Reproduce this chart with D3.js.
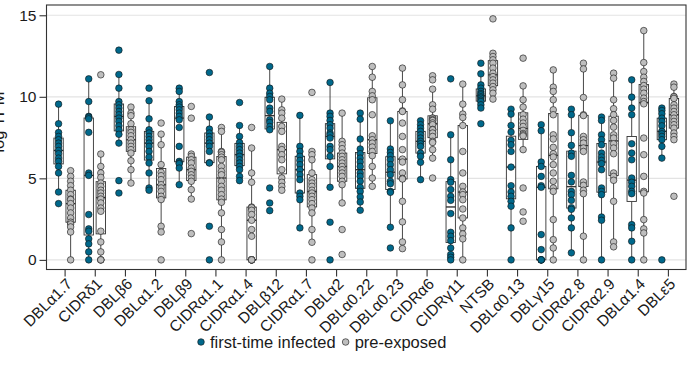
<!DOCTYPE html>
<html>
<head>
<meta charset="utf-8">
<script src="https://cdn.jsdelivr.net/npm/d3@7"></script>
<style>
  html, body { margin: 0; padding: 0; background: #fff; }
  svg { display: block; font-family: "Liberation Sans", Arial, Helvetica, sans-serif; }
</style>
</head>
<body>
<svg id="chart" width="695" height="387"></svg>
<script>
// var domains (x categories)
const categories = [
  "DBLα1.7", "CIDRδ1", "DBLβ6", "DBLα1.2", "DBLβ9", "CIDRα1.1", "CIDRα1.4",
  "DBLβ12", "CIDRα1.7", "DBLα2", "DBLα0.22", "DBLα0.23", "CIDRα6", "CIDRγ11",
  "NTSB", "DBLα0.13", "DBLγ15", "CIDRα2.8", "CIDRα2.9", "DBLα1.4", "DBLε5"
];

const seriesNames = ["first-time infected", "pre-exposed"];
const seriesColors = ["#00688B", "#BEBEBE"];

// log TPM per patient, first-time infected
const firstTimeInfected = [
  [9.55, 8.35, 7.81, 7.57, 7.37, 7.16, 6.96, 6.71, 6.51, 6.24, 6.04, 5.73, 5.33, 4.16, 3.45],
  [11.1, 9.71, 8.8, 8.75, 8.65, 7.82, 5.33, 5.18, 2.78, 1.9, 1.76, 1.29, 0.98, 0.49, 0],
  [12.86, 11.37, 10.53, 9.71, 9.51, 9.31, 9.1, 8.9, 8.69, 8.49, 8.22, 7.98, 7.7, 7.16, 4.86, 4.1],
  [10.53, 9.76, 8.65, 7.98, 7.78, 7.57, 7.37, 7.16, 6.96, 6.65, 6.3, 5.94, 5.33, 4.41, 4.27],
  [10.53, 10.33, 9.71, 9.51, 9.37, 9.2, 9.0, 8.8, 8.59, 8.12, 6.96, 6.04, 5.94, 5.9, 5.63, 4.61],
  [11.49, 8.76, 8.02, 7.78, 7.57, 7.37, 7.16, 6.96, 6.65, 5.96, 5.94, 2.06, 0],
  [9.65, 8.24, 7.57, 7.2, 6.96, 6.76, 6.55, 6.35, 6.14, 5.94, 5.73, 5.53, 5.12, 4.86],
  [11.86, 10.53, 10.22, 10.02, 9.82, 9.31, 9.1, 8.59, 8.43, 8.18, 7.98, 4.41, 3.49, 3.02],
  [8.86, 6.96, 6.65, 6.35, 6.1, 5.84, 5.53, 5.22, 4.92, 4.1, 3.9, 3.69, 1.96],
  [10.88, 9.0, 8.8, 8.55, 8.29, 8.08, 7.78, 7.67, 7.47, 6.96, 6.76, 6.35, 5.73, 4.45, 2.31, 0],
  [9.0, 8.63, 7.41, 6.8, 6.51, 6.24, 6.0, 5.73, 5.33, 5.12, 4.82, 4.45, 4.2, 3.86, 3.55, 3.04],
  [8.53, 6.8, 6.59, 6.39, 6.14, 5.84, 5.53, 5.22, 4.82, 4.67, 4.2, 4.14, 2.0, 0.73],
  [8.53, 8.29, 8.08, 7.88, 7.67, 7.47, 7.27, 7.12, 6.96, 6.55, 6.35, 5.98, 4.92],
  [11.1, 7.67, 6.14, 4.92, 4.76, 4.31, 3.9, 3.65, 2.84, 1.69, 1.45, 1.18, 0.73, 0.33, 0.16, 0],
  [12.06, 11.41, 10.73, 10.53, 10.33, 10.2, 10.12, 10.0, 9.92, 9.8, 9.71, 9.51, 9.31, 8.35],
  [9.24, 8.94, 8.24, 7.84, 7.33, 7.06, 6.65, 5.69, 4.55, 4.16, 3.9, 3.59, 3.29, 1.96, 0],
  [8.29, 7.92, 6.0, 5.73, 5.12, 4.55, 4.45, 1.55, 0.63, 0, 0, 0, 0],
  [9.24, 8.9, 7.8, 7.02, 6.55, 6.35, 5.18, 4.78, 4.2, 4.0, 3.65, 3.2, 3.1, 2.57, 1.96, 0.43],
  [8.76, 8.55, 7.67, 7.37, 7.06, 6.55, 6.31, 6.1, 5.9, 5.53, 4.41, 4.2, 4.0, 2.63, 2.43, 0],
  [11.04, 9.98, 9.31, 8.9, 7.12, 6.55, 6.14, 5.02, 4.76, 4.51, 4.2, 4.06, 2.16, 1.96, 1.14, 0],
  [9.31, 9.16, 8.96, 8.69, 8.49, 8.22, 7.88, 7.73, 7.57, 7.37, 6.96, 6.24, 0]
];

// log TPM per patient, pre-exposed
const preExposed = [
  [5.47, 5.12, 4.82, 4.55, 4.27, 4.0, 3.73, 3.7, 3.45, 3.18, 2.88, 2.57, 2.31, 2.2, 2.02, 1.71, 0],
  [11.35, 6.49, 5.73, 5.33, 5.06, 4.71, 4.51, 4.27, 4.1, 3.9, 3.73, 3.49, 3.18, 2.98, 1.76, 1.1, 0.49, 0, 0, 0],
  [9.37, 9.0, 8.84, 8.35, 7.98, 7.82, 7.61, 7.37, 7.16, 6.96, 6.76, 6.55, 6.08, 5.53, 4.71],
  [8.39, 7.71, 7.06, 5.84, 5.37, 5.16, 4.92, 4.61, 4.41, 4.2, 3.9, 3.7, 2.06, 1.71, 0],
  [9.41, 8.69, 6.49, 6.35, 6.14, 5.94, 5.63, 5.43, 5.22, 5.02, 4.82, 4.31, 3.73, 1.61],
  [8.12, 7.88, 6.65, 6.6, 6.45, 6.3, 6.14, 5.73, 5.43, 5.22, 4.82, 4.51, 4.27, 4.0, 3.73, 3.53, 2.88, 1.86, 1.1, 0],
  [8.12, 6.86, 5.33, 4.76, 3.24, 3.2, 3.04, 2.78, 2.43, 1.86, 1.45, 0, 0, 0, 0, 0, 0],
  [9.86, 9.2, 9.0, 8.69, 8.18, 7.88, 6.96, 6.76, 6.45, 6.14, 5.53, 5.02, 4.76, 4.51, 4.27],
  [10.27, 6.65, 6.45, 6.14, 5.33, 4.92, 4.71, 4.51, 4.27, 4.1, 3.9, 3.69, 3.45, 3.18, 2.88, 1.86, 1.08, 0],
  [9.0, 7.27, 7.06, 6.82, 6.55, 6.35, 6.14, 5.94, 5.73, 5.53, 5.33, 5.12, 4.82, 4.61, 3.49, 1.86, 0.33],
  [11.86, 11.2, 10.33, 10.06, 9.82, 8.9, 7.61, 7.37, 7.16, 6.92, 6.65, 6.39, 5.73, 5.02, 4.51],
  [11.76, 10.73, 9.82, 9.14, 9.1, 8.39, 7.57, 6.76, 6.18, 6.0, 5.33, 5.0, 4.96, 3.59, 2.33, 1.1, 0.69],
  [11.29, 11.04, 10.47, 9.51, 9.24, 8.7, 8.69, 8.6, 8.55, 8.4, 8.29, 8.0, 7.98, 7.78, 7.57, 7.27, 7.2, 6.76, 6.24, 5.02],
  [10.78, 9.55, 8.94, 8.73, 8.24, 6.65, 5.33, 4.51, 4.16, 4.0, 3.69, 3.12, 2.57, 1.96, 1.59, 1.29, 0],
  [14.78, 12.67, 12.47, 12.27, 12.06, 11.76, 11.45, 11.24, 11.04, 10.84, 10.63, 10.43, 10.22, 9.86],
  [12.37, 10.67, 9.82, 9.37, 8.9, 8.63, 8.39, 8.18, 7.94, 7.75, 7.67, 7.6, 6.76, 4.41, 2.94, 2.37],
  [11.65, 10.59, 10.33, 9.82, 9.2, 8.9, 7.67, 7.41, 6.9, 6.51, 6.31, 5.84, 5.33, 4.82, 4.41, 4.2, 2.47, 1.24, 0.73, 0],
  [12.06, 11.71, 9.96, 8.9, 8.85, 7.57, 7.37, 7.16, 6.86, 6.65, 4.78, 4.57, 4.27, 4.06, 1.45, 0],
  [11.45, 11.14, 9.82, 9.27, 8.9, 8.55, 8.14, 7.67, 7.47, 7.12, 6.86, 6.51, 5.33, 5.12, 4.88, 3.59, 1.1, 0.8],
  [14.06, 12.1, 11.55, 11.2, 10.94, 10.69, 10.47, 10.22, 9.92, 9.71, 9.57, 7.47, 6.45, 5.12, 4.2, 4.1, 2.47, 1.9, 1.65, 0],
  [10.78, 10.59, 10.02, 10.0, 9.9, 9.51, 9.31, 9.1, 8.9, 8.69, 8.49, 8.29, 8.08, 7.78, 7.57, 7.37, 3.9]
];

const yTicks = [0, 5, 10, 15];
const yTitle = "log TPM";

// ---- layout ----
const panel = { left: 46.5, right: 686, top: 5, bottom: 269.5 };
const svg = d3.select("#chart");
const FONT = "'Liberation Sans', Arial, sans-serif";

const x = d3.scalePoint().domain(categories).range([panel.left, panel.right]).padding(0.6);
const y = d3.scaleLinear().domain([-0.59, 15.63]).range([panel.bottom, panel.top]);
const step = x.step();
const dodge = d3.scaleBand().domain(seriesNames).range([-0.4 * step, 0.4 * step]).padding(0);
const boxHalf = 0.155 * step;

// horizontal grid
svg.append("g").selectAll("line").data(yTicks).join("line")
  .attr("x1", panel.left).attr("x2", panel.right)
  .attr("y1", d => y(d)).attr("y2", d => y(d))
  .attr("stroke", "#e3e3e3").attr("stroke-width", 1.2);

// box statistics with Tukey whiskers
function boxStats(vals) {
  const s = vals.slice().sort(d3.ascending);
  const q1 = d3.quantileSorted(s, 0.25), med = d3.quantileSorted(s, 0.5), q3 = d3.quantileSorted(s, 0.75);
  const iqr = q3 - q1;
  const lo = d3.min(s.filter(v => v >= q1 - 1.5 * iqr));
  const hi = d3.max(s.filter(v => v <= q3 + 1.5 * iqr));
  return { q1, med, q3, lo, hi };
}

const groups = [];
categories.forEach((c, i) => {
  [firstTimeInfected[i], preExposed[i]].forEach((vals, j) => {
    groups.push({
      cat: c, series: seriesNames[j], color: seriesColors[j], vals,
      cx: x(c) + dodge(seriesNames[j]) + dodge.bandwidth() / 2,
      stats: boxStats(vals)
    });
  });
});

const boxG = svg.append("g").attr("stroke", "#333").attr("stroke-width", 0.9);
const gBox = boxG.selectAll("g").data(groups).join("g");
gBox.append("line")
  .attr("x1", d => d.cx).attr("x2", d => d.cx)
  .attr("y1", d => y(d.stats.hi)).attr("y2", d => y(d.stats.q3));
gBox.append("line")
  .attr("x1", d => d.cx).attr("x2", d => d.cx)
  .attr("y1", d => y(d.stats.q1)).attr("y2", d => y(d.stats.lo));
gBox.append("rect")
  .attr("x", d => d.cx - boxHalf).attr("width", 2 * boxHalf)
  .attr("y", d => y(d.stats.q3)).attr("height", d => y(d.stats.q1) - y(d.stats.q3))
  .attr("fill", "#fff");
gBox.append("line")
  .attr("x1", d => d.cx - boxHalf).attr("x2", d => d.cx + boxHalf)
  .attr("y1", d => y(d.stats.med)).attr("y2", d => y(d.stats.med))
  .attr("stroke-width", 1.4);

// individual patients
const ptG = svg.append("g");
groups.forEach(g => {
  ptG.append("g").selectAll("circle").data(g.vals).join("circle")
    .attr("cx", g.cx).attr("cy", d => y(d)).attr("r", 3.3)
    .attr("fill", g.color).attr("stroke", "#111").attr("stroke-width", 0.6);
});

// panel border
svg.append("rect")
  .attr("x", panel.left).attr("y", panel.top)
  .attr("width", panel.right - panel.left).attr("height", panel.bottom - panel.top)
  .attr("fill", "none").attr("stroke", "#333").attr("stroke-width", 1.1);

// y axis
const yAxis = svg.append("g").attr("transform", `translate(${panel.left},0)`)
  .call(d3.axisLeft(y).tickValues(yTicks).tickSize(7).tickPadding(3));
yAxis.select(".domain").remove();
yAxis.selectAll("line").attr("stroke", "#333").attr("stroke-width", 1.1);
yAxis.selectAll("text").attr("font-size", 15.5).attr("fill", "#1a1a1a").attr("font-family", FONT);

// x axis
const xAxis = svg.append("g").attr("transform", `translate(0,${panel.bottom})`)
  .call(d3.axisBottom(x).tickSize(7).tickPadding(3));
xAxis.select(".domain").remove();
xAxis.selectAll("line").attr("stroke", "#333").attr("stroke-width", 1.1);
xAxis.selectAll("text")
  .attr("font-size", 15.5).attr("fill", "#1a1a1a").attr("font-family", FONT)
  .attr("x", 0).attr("y", 0).attr("dy", "0.72em")
  .attr("transform", "translate(0,7.5) rotate(-45)")
  .style("text-anchor", "end");

// y title
svg.append("text")
  .attr("transform", "translate(4,122) rotate(-90)")
  .attr("text-anchor", "middle")
  .attr("font-size", 16.5).attr("fill", "#1a1a1a")
  .text(yTitle);

// legend
const legend = svg.append("g");
let lx = 201;
seriesNames.forEach((name, j) => {
  legend.append("circle").attr("cx", lx).attr("cy", 342).attr("r", 3.3)
    .attr("fill", seriesColors[j]).attr("stroke", "#111").attr("stroke-width", 0.6);
  const t = legend.append("text").attr("x", lx + 9).attr("y", 342).attr("dy", "0.35em")
    .attr("font-size", 16.5).attr("fill", "#1a1a1a").text(name);
  lx = lx + 9 + t.node().getComputedTextLength() + 10;
});
</script>
</body>
</html>
